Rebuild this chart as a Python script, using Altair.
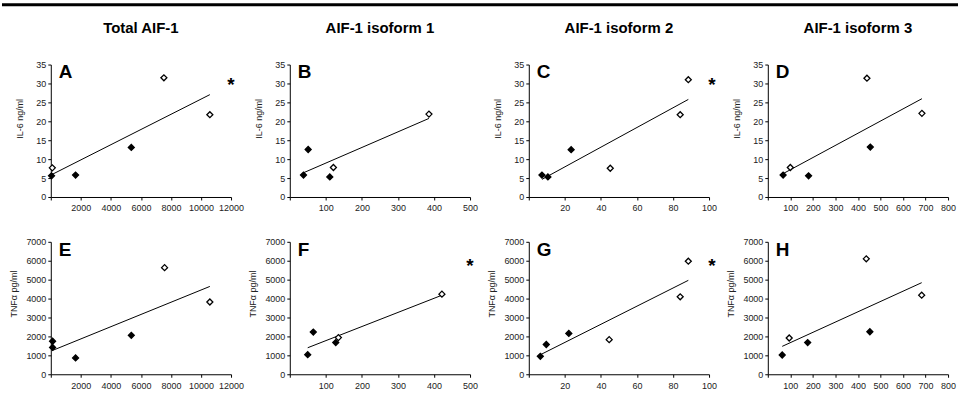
import altair as alt
import pandas as pd

FONT = "Liberation Sans"

# column headers and panel letters
col_titles = ["Total AIF-1", "AIF-1 isoform 1", "AIF-1 isoform 2", "AIF-1 isoform 3"]
letters = ["A", "B", "C", "D", "E", "F", "G", "H"]
significant = [True, False, True, False, False, True, True, False]

# x axis range and tick step per column
x_max = [12000, 500, 100, 800]
x_step = [2000, 100, 20, 100]

# y axis per row
y_titles = ["IL-6 ng/ml", "TNF\u03b1 pg/ml"]
y_max = [35, 7000]
y_step = [5, 1000]

# IL-6 row
a_x = [50, 100, 1650, 5360, 7530, 10590]
a_y = [5.6, 7.7, 5.8, 13.1, 31.5, 21.75]
a_open = [0, 1, 0, 0, 1, 1]

b_x = [38, 51, 111, 121, 386]
b_y = [5.8, 12.55, 5.3, 7.8, 21.9]
b_open = [0, 0, 0, 1, 1]

c_x = [7.3, 10.6, 23.5, 45.2, 84, 88.5]
c_y = [5.8, 5.3, 12.5, 7.6, 21.75, 31.0]
c_open = [0, 0, 0, 1, 1, 1]

d_x = [68, 100, 181, 440, 455, 684]
d_y = [5.8, 7.8, 5.6, 31.4, 13.2, 22.1]
d_open = [0, 1, 0, 1, 0, 1]

# TNF-alpha row
e_x = [120, 120, 1650, 5360, 7575, 10590]
e_y = [1745, 1417, 864, 2057, 5634, 3820]
e_open = [0, 0, 0, 0, 1, 1]

f_x = [49.7, 65.2, 127.5, 134.8, 422]
f_y = [1037, 2230, 1676, 1936, 4234]
f_open = [0, 0, 0, 1, 1]

g_x = [6.4, 9.7, 22.2, 44.6, 84, 88.5]
g_y = [950, 1572, 2159, 1830, 4093, 5976]
g_open = [0, 0, 0, 1, 1, 1]

h_x = [64, 95, 177, 437, 453, 683]
h_y = [1019, 1917, 1676, 6100, 2246, 4180]
h_open = [0, 1, 0, 1, 0, 1]

series = [
    (a_x, a_y, a_open), (b_x, b_y, b_open), (c_x, c_y, c_open), (d_x, d_y, d_open),
    (e_x, e_y, e_open), (f_x, f_y, f_open), (g_x, g_y, g_open), (h_x, h_y, h_open),
]

W, H = 181, 133


def panel(i, xs, ys, opens):
    row, col = divmod(i, 4)
    df = pd.DataFrame({"x": xs, "y": ys,
                       "kind": ["open" if o else "filled" for o in opens]})
    x_enc = alt.X(
        "x:Q",
        scale=alt.Scale(domain=[0, x_max[col]], nice=False, zero=True),
        axis=alt.Axis(
            values=list(range(0, x_max[col] + 1, x_step[col])),
            labelExpr="datum.value == 0 ? '' : datum.label",
            format="d", title=None, grid=False, tickSize=3, labelPadding=4,
            labelOverlap=False, labelFlush=False,
        ),
    )
    y_enc = alt.Y(
        "y:Q",
        scale=alt.Scale(domain=[0, y_max[row]], nice=False),
        axis=alt.Axis(
            values=list(range(0, y_max[row] + 1, y_step[row])),
            format="d", title=y_titles[row], grid=False, tickSize=3,
            labelPadding=2, labelOverlap=False, labelFlush=False,
            titleX=-26 if row == 0 else -32,
            titleY=54 if row == 0 else 52,
        ),
    )
    base = alt.Chart(df)
    trend = base.transform_regression("x", "y").mark_line(
        color="black", strokeWidth=1).encode(x=x_enc, y=y_enc)
    pts = base.mark_point(shape="diamond", filled=True, size=36, stroke="black",
                          strokeWidth=1.3, opacity=1).encode(
        x=x_enc, y=y_enc,
        fill=alt.Fill("kind:N", scale=alt.Scale(domain=["filled", "open"],
                                                range=["black", "white"]),
                      legend=None),
    )
    letter = alt.Chart(pd.DataFrame({"t": [letters[i]]})).mark_text(
        align="left", baseline="alphabetic", fontSize=19, fontWeight="bold",
        font=FONT, color="black",
    ).encode(x=alt.value(8), y=alt.value(14), text="t:N")
    layers = [trend, pts, letter]
    if significant[i]:
        star = alt.Chart(pd.DataFrame({"t": ["*"]})).mark_text(
            align="center", baseline="alphabetic", fontSize=19, fontWeight="bold",
            font=FONT, color="black",
        ).encode(x=alt.value(181 if col <= 1 else 184),
                 y=alt.value(27 if row == 0 else 30), text="t:N")
        layers.append(star)
    if row == 0:
        head = alt.Chart(pd.DataFrame({"t": [col_titles[col]]})).mark_text(
            align="center", baseline="alphabetic", fontSize=15, fontWeight="bold",
            font=FONT, color="black",
        ).encode(x=alt.value(W / 2), y=alt.value(-32), text="t:N")
        layers.append(head)
    if i == 0:
        top_rule = alt.Chart(pd.DataFrame({"t": [0]})).mark_rule(
            color="black", strokeWidth=3,
        ).encode(x=alt.value(-49), x2=alt.value(911), y=alt.value(-60))
        layers.append(top_rule)
    return alt.layer(*layers).properties(width=W, height=H)


panels = [panel(i, *s) for i, s in enumerate(series)]

chart = alt.concat(*panels, columns=4, spacing={"row": 45, "column": 59}).properties(
    bounds="flush",
    padding={"left": 0, "top": 2, "right": 0, "bottom": 0},
).configure_view(stroke=None).configure_axis(
    labelFont=FONT, titleFont=FONT, labelFontSize=9, titleFontSize=9,
    labelColor="#222", titleColor="#222", titleFontWeight="normal",
    domainColor="black", tickColor="black", domainWidth=1, tickWidth=1,
)

chart.save("out.html", embed_options={"renderer": "svg", "actions": False})
